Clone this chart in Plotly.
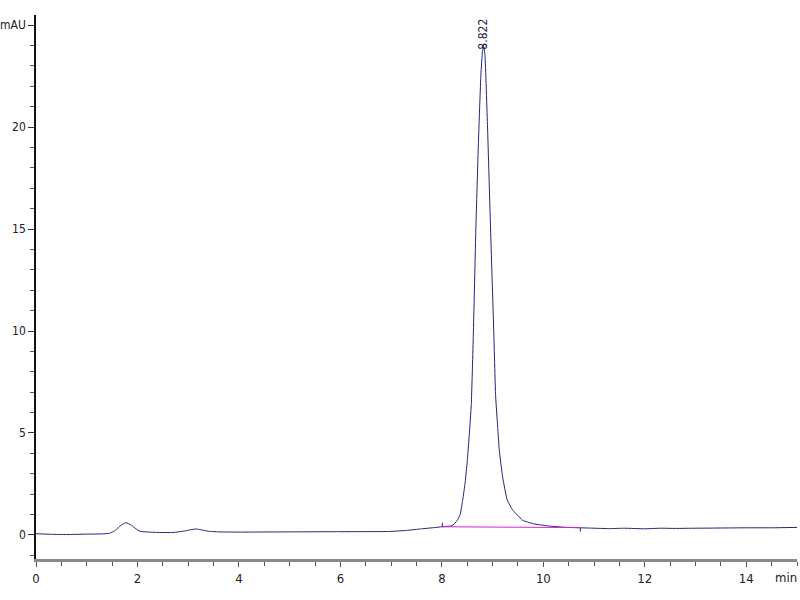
import plotly.graph_objects as go

# Chromatogram signal (time in min, signal in mAU)
time_min = [0.0, 0.3, 0.6, 1.0, 1.3, 1.45, 1.55, 1.65, 1.77, 1.88, 1.97, 2.05, 2.3, 2.7,
            2.95, 3.05, 3.16, 3.28, 3.4, 3.6, 4.0, 5.0, 6.0, 6.97, 7.3, 7.6, 7.85, 8.0,
            8.1, 8.2, 8.3, 8.36, 8.41, 8.46, 8.5, 8.54, 8.58, 8.62, 8.67, 8.72, 8.77,
            8.8, 8.822, 8.85, 8.9, 8.96, 9.02, 9.06, 9.1, 9.13, 9.2, 9.29, 9.4, 9.5,
            9.59, 9.8, 10.1, 10.4, 10.73, 11.0, 11.3, 11.6, 12.0, 12.3, 12.6, 13.0,
            13.5, 14.0, 14.5, 15.0]
signal_mau = [0.06, 0.03, 0.02, 0.04, 0.05, 0.08, 0.2, 0.42, 0.6, 0.48, 0.3, 0.18, 0.13, 0.12,
              0.2, 0.26, 0.29, 0.24, 0.18, 0.15, 0.14, 0.15, 0.16, 0.17, 0.22, 0.3, 0.36, 0.4,
              0.42, 0.45, 0.7, 1.0, 1.7, 2.6, 3.6, 4.9, 6.4, 9.8, 15.0, 19.2, 22.6,
              23.7, 24.0, 23.5, 20.0, 15.0, 10.2, 6.8, 5.3, 4.2, 2.8, 1.7, 1.2, 0.95,
              0.72, 0.55, 0.44, 0.38, 0.35, 0.33, 0.31, 0.33, 0.3, 0.33, 0.32, 0.33,
              0.34, 0.35, 0.35, 0.37]

# Integration baseline of the main peak
baseline_time = [8.01, 10.73]
baseline_mau = [0.4, 0.36]

peak_time = [8.822]
peak_height = [24.0]
peak_label = ["8.822"]

x_tick_vals = [0, 2, 4, 6, 8, 10, 12, 14]
y_tick_vals = [0, 5, 10, 15, 20, 25]
y_tick_text = ["0", "5", "10", "15", "20", "mAU"]

FONT = "DejaVu Sans Condensed, Liberation Sans Narrow, Arial Narrow, sans-serif"

fig = go.Figure()
fig.add_trace(go.Scatter(x=time_min, y=signal_mau, mode="lines",
                         line=dict(color="#23237a", width=1, shape="spline", smoothing=0.4),
                         hoverinfo="x+y", showlegend=False))
fig.add_trace(go.Scatter(x=baseline_time, y=baseline_mau, mode="lines",
                         line=dict(color="#e020d0", width=1), showlegend=False))
# small start / end integration markers
fig.add_trace(go.Scatter(x=[baseline_time[0], baseline_time[0]],
                         y=[baseline_mau[0], baseline_mau[0] + 0.2], mode="lines",
                         line=dict(color="#23237a", width=1), showlegend=False))
fig.add_trace(go.Scatter(x=[baseline_time[1], baseline_time[1]],
                         y=[baseline_mau[1], baseline_mau[1] - 0.2], mode="lines",
                         line=dict(color="#23237a", width=1), showlegend=False))

for t, h, lab in zip(peak_time, peak_height, peak_label):
    fig.add_annotation(x=t, y=h, text=lab, textangle=-90, showarrow=False,
                       xanchor="center", yanchor="bottom", yshift=-6,
                       font=dict(family=FONT, size=12, color="#1a1a50"))

fig.add_annotation(xref="paper", yref="paper", x=1.0, y=0, text="min", showarrow=False,
                   xanchor="right", yanchor="top", yshift=-9, xshift=2,
                   font=dict(family=FONT, size=13, color="#222"))

fig.update_layout(
    width=800, height=600,
    margin=dict(l=36, r=3, t=15, b=41, autoexpand=False),
    paper_bgcolor="white", plot_bgcolor="white",
    font=dict(family=FONT, size=13, color="#222"),
)
fig.update_xaxes(range=[0, 15.0], tickvals=x_tick_vals, ticks="outside", ticklen=5,
                 tickcolor="#555", showgrid=False, zeroline=False, automargin=False,
                 showline=True, linecolor="#8a8a8a", linewidth=3,
                 minor=dict(dtick=0.5, ticks="outside", ticklen=4, tickcolor="#555"),
                 tickfont=dict(family=FONT, size=13, color="#222"))
fig.update_yaxes(range=[-1.18, 25.5], tickvals=y_tick_vals, ticktext=y_tick_text,
                 ticks="outside", ticklen=6, tickcolor="#333", showgrid=False,
                 zeroline=False, showline=True, linecolor="#111", linewidth=1.5,
                 automargin=False,
                 minor=dict(dtick=1, ticks="outside", ticklen=4, tickcolor="#555"),
                 tickfont=dict(family=FONT, size=12, color="#222"))

fig.write_html("out.html", config={"displayModeBar": False},
               post_script="document.body.style.margin='0px';document.body.style.overflow='hidden';")
